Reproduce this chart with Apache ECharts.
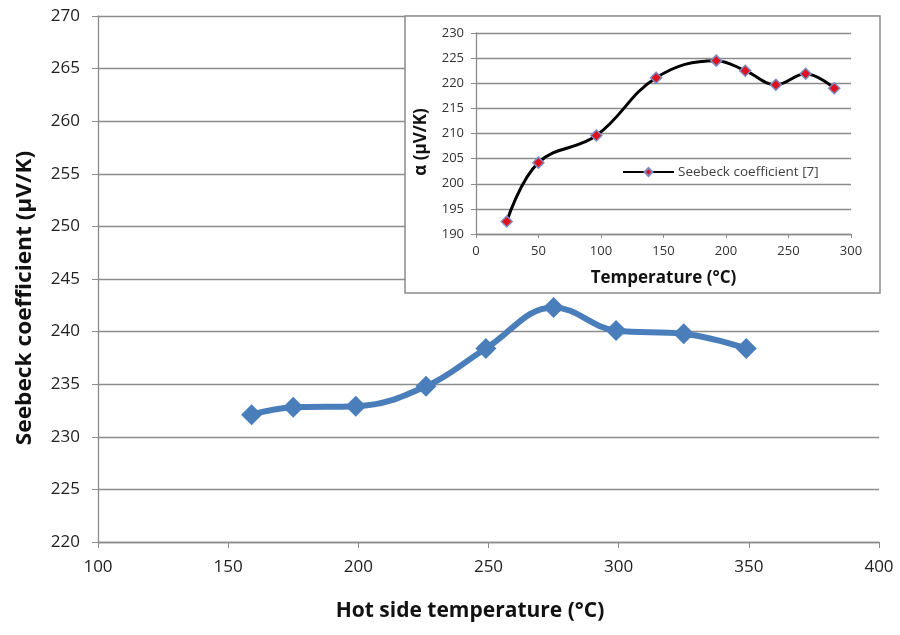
<!DOCTYPE html>
<html><head><meta charset="utf-8">
<script src="https://cdn.jsdelivr.net/npm/echarts@6/dist/echarts.min.js"></script>
<style>html,body{margin:0;padding:0;background:#fff}#c{width:900px;height:635px}</style>
</head><body><div id="c"></div>
<script>
// Main chart data
const mainTemps = [159, 175, 199, 226, 249, 275, 299, 325, 349];
const mainSeebeck = [232.1, 232.8, 232.9, 234.8, 238.4, 242.3, 240.1, 239.8, 238.4];
// Inset data (reference [7])
const insetTemps = [24.6, 49.9, 96.3, 144.1, 192.2, 215.4, 239.9, 263.7, 286.6];
const insetSeebeck = [192.5, 204.2, 209.6, 221.1, 224.5, 222.5, 219.7, 221.9, 219.0];
const insetSeriesName = 'Seebeck coefficient [7]';

const FONT = '"Open Sans", "Noto Sans", sans-serif';
const chart = echarts.init(document.getElementById('c'), null, {renderer: 'canvas'});
const pair = (xs, ys) => xs.map((x, i) => [x, ys[i]]);

chart.setOption({
  animation: false,
  backgroundColor: '#fff',
  grid: [
    {left: 98, right: 21, top: 16, bottom: 93},
    {left: 476, right: 49, top: 33, bottom: 401}
  ],
  graphic: [
    {type: 'rect', z: 1, shape: {x: 405, y: 16, width: 475, height: 277},
     style: {fill: '#fff', stroke: '#8c8c8c', lineWidth: 1.5}},
    {type: 'text', z: 5, x: 470, y: 611,
     style: {text: 'Hot side temperature (°C)', font: 'bold 21px ' + FONT, fill: '#111',
             textAlign: 'center', textVerticalAlign: 'middle'}},
    {type: 'text', z: 5, x: 25, y: 298, rotation: Math.PI / 2, scaleX: 1.08,
     style: {text: 'Seebeck coefficient (μV/K)', font: 'bold 21px ' + FONT, fill: '#111',
             textAlign: 'center', textVerticalAlign: 'middle'}},
    {type: 'text', z: 5, x: 421, y: 142, rotation: Math.PI / 2,
     style: {text: 'α (μV/K)', font: 'bold 17px ' + FONT, fill: '#111',
             textAlign: 'center', textVerticalAlign: 'middle'}}
  ],
  legend: {
    show: true,
    data: [insetSeriesName],
    left: 622, top: 165, padding: 0,
    itemWidth: 51, itemHeight: 10, itemGap: 4,
    textStyle: {fontSize: 13.5, fontFamily: FONT, color: '#404040', padding: [0, 0, 0, -1]},
    z: 6
  },
  xAxis: [
    {gridIndex: 0, type: 'value', min: 100, max: 400, interval: 50,
     axisLine: {show: true, lineStyle: {color: '#8c8c8c', width: 1.3}},
     axisTick: {show: true, length: 6, lineStyle: {color: '#8c8c8c'}},
     axisLabel: {margin: 17, fontSize: 17, fontFamily: FONT, color: '#222'},
     splitLine: {show: false}},
    {gridIndex: 1, type: 'value', min: 0, max: 300, interval: 50, z: 3,
     axisLine: {show: true, lineStyle: {color: '#8c8c8c', width: 1.3}},
     axisTick: {show: true, length: 4, lineStyle: {color: '#8c8c8c'}},
     axisLabel: {margin: 11, fontSize: 13, fontFamily: FONT, color: '#333'},
     splitLine: {show: false},
     name: 'Temperature (°C)', nameLocation: 'middle', nameGap: 36,
     nameTextStyle: {fontSize: 17, fontWeight: 'bold', fontFamily: FONT, color: '#111'}}
  ],
  yAxis: [
    {gridIndex: 0, type: 'value', min: 220, max: 270, interval: 5,
     axisLine: {show: true, lineStyle: {color: '#8c8c8c', width: 1.3}},
     axisTick: {show: true, length: 6, lineStyle: {color: '#8c8c8c'}},
     axisLabel: {margin: 18, fontSize: 17, fontFamily: FONT, color: '#222'},
     splitLine: {show: true, lineStyle: {color: '#8c8c8c', width: 1.3}}},
    {gridIndex: 1, type: 'value', min: 190, max: 230, interval: 5, z: 3,
     axisLine: {show: true, lineStyle: {color: '#8c8c8c', width: 1.3}},
     axisTick: {show: true, length: 5, lineStyle: {color: '#8c8c8c'}},
     axisLabel: {margin: 12, fontSize: 13, fontFamily: FONT, color: '#333'},
     splitLine: {show: true, lineStyle: {color: '#8c8c8c', width: 1.3}}}
  ],
  series: [
    {type: 'line', name: 'Hot side', xAxisIndex: 0, yAxisIndex: 0, z: 2,
     data: pair(mainTemps, mainSeebeck), smooth: 0.4,
     symbol: 'diamond', symbolSize: 21,
     lineStyle: {color: '#4a7ebb', width: 6},
     itemStyle: {color: '#4a7ebb'}},
    {type: 'line', name: insetSeriesName, xAxisIndex: 1, yAxisIndex: 1, z: 4,
     data: pair(insetTemps, insetSeebeck), smooth: 0.4,
     symbol: 'diamond', symbolSize: 11,
     lineStyle: {color: '#000', width: 3},
     itemStyle: {color: '#e0101e', borderColor: '#7d8cc0', borderWidth: 1.5}}
  ]
});
</script></body></html>
